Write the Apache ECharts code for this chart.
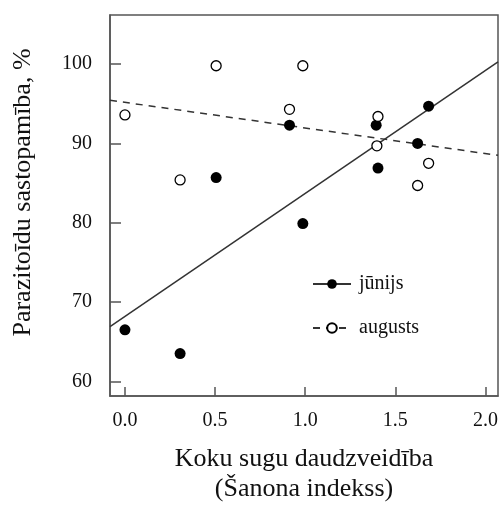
<!DOCTYPE html>
<html><head><meta charset="utf-8">
<script src="https://cdn.jsdelivr.net/npm/echarts@6/dist/echarts.min.js"></script>
<style>html,body{margin:0;padding:0;background:#fff}#c{width:502px;height:511px}</style>
</head><body><div id="c"></div>
<script>
const junX = [0, 0.306, 0.506, 0.913, 0.987, 1.394, 1.404, 1.624, 1.685];
const junY = [66.5, 63.5, 85.7, 92.3, 79.9, 92.3, 86.9, 90.0, 94.7];
const augX = [0, 0.306, 0.506, 0.913, 0.987, 1.398, 1.404, 1.624, 1.685];
const augY = [93.6, 85.4, 99.8, 94.3, 99.8, 89.7, 93.4, 84.7, 87.5];
const fitJunX = [-0.083, 2.07];
const fitJunY = [66.9, 100.3];
const fitAugX = [-0.083, 2.07];
const fitAugY = [95.45, 88.5];
const xTicks = [0, 0.5, 1, 1.5, 2];
const yTicks = [60, 70, 80, 90, 100];
const seriesNames = ['jūnijs', 'augusts'];
const xTitle = 'Koku sugu daudzveidība\n(Šanona indekss)';
const yTitle = 'Parazitoīdu sastopamība, %';

const pairs = (xs, ys) => xs.map((x, i) => [x, ys[i]]);
const font = 'Liberation Serif';
const chart = echarts.init(document.getElementById('c'));
chart.setOption({
  animation: false,
  backgroundColor: '#fff',
  grid: { left: 110, right: 4, top: 15, bottom: 115, show: true, borderColor: '#555', borderWidth: 1.5, backgroundColor: 'transparent' },
  legend: {
    data: seriesNames,
    left: 307, top: 269, orient: 'vertical',
    itemWidth: 38, itemHeight: 12, itemGap: 24,
    textStyle: { fontFamily: font, fontSize: 20, color: '#111', padding: [0, 0, 0, 3] }
  },
  xAxis: {
    type: 'value', min: -0.083, max: 2.07,
    axisLine: { show: true, onZero: false, lineStyle: { color: '#555', width: 1.5 } },
    axisTick: { show: true, inside: true, length: 9, lineStyle: { color: '#555', width: 1.5 }, customValues: xTicks },
    axisLabel: { customValues: xTicks, formatter: v => v.toFixed(1), fontFamily: font, fontSize: 20, color: '#111', margin: 15 },
    splitLine: { show: false },
    name: xTitle, nameLocation: 'middle', nameGap: 48,
    nameTextStyle: { fontFamily: font, fontSize: 26, color: '#111', lineHeight: 30 }
  },
  yAxis: {
    type: 'value', min: 58.15, max: 106.2,
    axisLine: { show: true, onZero: false, lineStyle: { color: '#555', width: 1.5 } },
    axisTick: { show: true, inside: true, length: 11, lineStyle: { color: '#555', width: 1.5 }, customValues: yTicks },
    axisLabel: { customValues: yTicks, fontFamily: font, fontSize: 20, color: '#111', margin: 18 },
    splitLine: { show: false },
    name: yTitle, nameLocation: 'middle', nameGap: 74,
    nameTextStyle: { fontFamily: font, fontSize: 26, color: '#111', padding: [0, 0, 0, 26] }
  },
  series: [
    { name: seriesNames[0], type: 'line', data: pairs(fitJunX, fitJunY), symbol: 'circle', showSymbol: false,
      lineStyle: { color: '#333', width: 1.5 }, itemStyle: { color: '#000' }, z: 2 },
    { name: seriesNames[1], type: 'line', data: pairs(fitAugX, fitAugY), symbol: 'emptyCircle', showSymbol: false,
      lineStyle: { color: '#333', width: 1.5, type: [7, 6] }, itemStyle: { color: '#000' }, z: 2 },
    { name: seriesNames[0], type: 'scatter', data: pairs(junX, junY), symbol: 'circle', symbolSize: 11,
      itemStyle: { color: '#000', opacity: 1 }, z: 3 },
    { name: seriesNames[1], type: 'scatter', data: pairs(augX, augY), symbol: 'circle', symbolSize: 10,
      itemStyle: { color: '#fff', borderColor: '#000', borderWidth: 1.3, opacity: 1 }, z: 3 }
  ]
});
</script></body></html>
